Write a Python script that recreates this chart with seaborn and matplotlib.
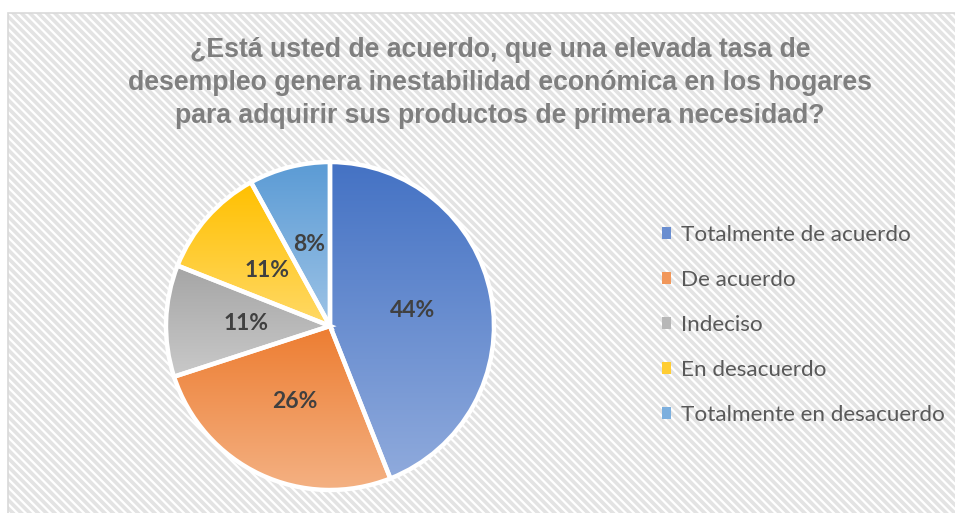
import numpy as np
import matplotlib.pyplot as plt
import matplotlib.patches as mpatches
import seaborn as sns

# survey answers, percentage of respondents
categories = ["Totalmente de acuerdo", "De acuerdo", "Indeciso",
              "En desacuerdo", "Totalmente en desacuerdo"]
shares = [44, 26, 11, 11, 8]
title = ("¿Está usted de acuerdo, que una elevada tasa de\n"
         "desempleo genera inestabilidad económica en los hogares\n"
         "para adquirir sus productos de primera necesidad?")

# excel style gradient fill: dark at the top of each slice, light at the bottom
top_colors = ["#4472C4", "#ED7D31", "#A5A5A5", "#FFC000", "#5B9BD5"]
bottom_colors = ["#8FAADC", "#F4B183", "#C9C9C9", "#FFD966", "#9DC3E6"]

W, H = 955, 513


def make_gradient(top, bottom, n=256):
    pal = sns.blend_palette([bottom, top], n_colors=n)
    return np.array(pal).reshape(n, 1, 3)


def main():
    sns.set_theme(style="white")
    plt.rcParams["hatch.color"] = "#e3e3e3"
    plt.rcParams["hatch.linewidth"] = 2.6

    fig = plt.figure(figsize=(W / 100, H / 100), dpi=100)
    fig.patch.set_facecolor("white")

    # hatched chart area with a thin border
    bg = mpatches.Rectangle((8 / W, 0), 1, 1 - 13 / H, transform=fig.transFigure,
                            facecolor="white", edgecolor="#e3e3e3", hatch="\\\\\\\\",
                            lw=0, zorder=-3)
    fig.add_artist(bg)
    border = mpatches.Rectangle((8 / W, -0.01), 1, 1.01 - 13 / H, transform=fig.transFigure,
                                fill=False, edgecolor="#d9d9d9", lw=1.2, zorder=-2)
    fig.add_artist(border)

    cx, cy, r = 330, 326, 164
    ax = fig.add_axes([(cx - r) / W, (H - cy - r) / H, 2 * r / W, 2 * r / H])
    ax.set_facecolor("none")

    wedges, texts, autotexts = ax.pie(
        shares, startangle=90, counterclock=False, autopct="%1.0f%%",
        pctdistance=0.51,
        wedgeprops=dict(edgecolor="white", linewidth=3.2, facecolor="none"),
        textprops=dict(family="Lato", fontsize=16.5, weight="bold", color="#404040"))

    for w, top, bottom in zip(wedges, top_colors, bottom_colors):
        ext = w.get_path().get_extents()
        im = ax.imshow(make_gradient(top, bottom), origin="lower", aspect="auto",
                       extent=[ext.x0, ext.x1, ext.y0, ext.y1],
                       interpolation="bilinear", zorder=0.5)
        im.set_clip_path(w)

    for t in autotexts:
        t.set_zorder(5)

    ax.set_xlim(-1, 1)
    ax.set_ylim(-1, 1)
    ax.set_aspect("equal")
    ax.axis("off")

    fig.text(500 / W, 1 - 83 / H, title, ha="center", va="center",
             fontsize=19.2, weight="bold", color="#7f7f7f",
             family="Liberation Sans", linespacing=1.37)

    mid_colors = [sns.blend_palette([t, b], 3)[1] for t, b in zip(top_colors, bottom_colors)]
    handles = [mpatches.Patch(facecolor=c, edgecolor="none") for c in mid_colors]
    fig.legend(handles, categories, loc="center left",
               bbox_to_anchor=(662 / W, 1 - 325 / H), frameon=False,
               prop=dict(family="Lato", size=16.2), labelcolor="#595959",
               handlelength=0.4, handleheight=0.4, handletextpad=0.45,
               labelspacing=1.11, borderpad=0, borderaxespad=0)

    fig.savefig("out.png", dpi=100)
    plt.close(fig)


if __name__ == "__main__":
    main()
